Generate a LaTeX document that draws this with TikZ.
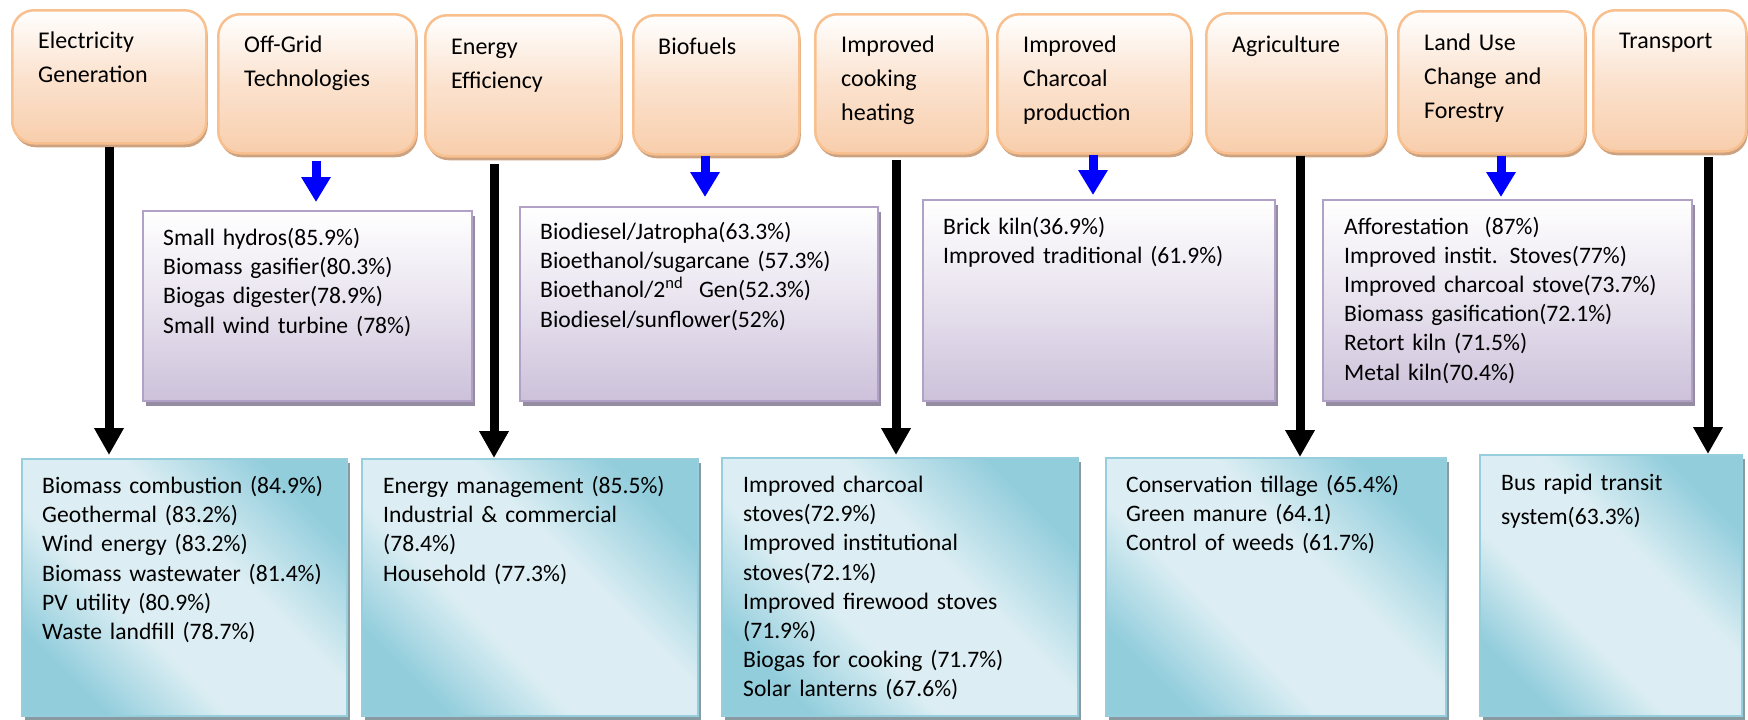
\documentclass[tikz,border=0pt]{standalone}
\usepackage{fontspec}
\setmainfont{Carlito}
\usetikzlibrary{arrows.meta,shadows,calc}
\definecolor{peachB}{RGB}{248,206,172}
\definecolor{peachM}{RGB}{251,226,206}
\definecolor{peachE}{RGB}{249,192,143}
\definecolor{peachS}{RGB}{205,162,128}
\definecolor{lavB}{RGB}{204,193,218}
\definecolor{lavM}{RGB}{232,226,238}
\definecolor{lavE}{RGB}{178,161,199}
\definecolor{lavS}{RGB}{150,140,162}
\definecolor{tealD}{RGB}{146,205,220}
\definecolor{tealL}{RGB}{220,238,243}
\definecolor{tealE}{RGB}{150,206,221}
\definecolor{tealS}{RGB}{135,155,160}
\pgfdeclareverticalshading{tealdiag}{100bp}{color(0bp)=(tealD); color(25bp)=(tealD); color(40bp)=(tealL); color(58bp)=(tealL); color(75bp)=(tealD); color(100bp)=(tealD)}
\tikzset{
  topbox/.style={draw=peachE, line width=2.5pt, rounded corners=22pt,
    top color=white, bottom color=peachB, middle color=peachM,
    drop shadow={shadow xshift=1.5pt, shadow yshift=-4pt, fill=peachS, opacity=1},
    anchor=north west, inner sep=0pt},
  midbox/.style={draw=lavE, line width=2pt, top color=white, bottom color=lavB, middle color=lavM,
    drop shadow={shadow xshift=3pt, shadow yshift=-5pt, fill=lavS, opacity=1},
    anchor=north west, inner sep=0pt},
  lowbox/.style={draw=tealE, line width=2pt, shade, shading=tealdiag, shading angle=-45,
    drop shadow={shadow xshift=3pt, shadow yshift=-4pt, fill=tealS, opacity=1},
    anchor=north west, inner sep=0pt},
  toptxt/.style={anchor=base west, inner sep=0pt, text width=380pt, align=left,
    font=\fontsize{24}{34}\selectfont},
  listtxt/.style={anchor=base west, inner sep=0pt, text width=400pt, align=left,
    font=\fontsize{23.6}{29.2}\selectfont},
  blk/.style={line width=9pt, black, -{Triangle[width=28pt,length=27pt]}},
  blu/.style={line width=9pt, blue, -{Triangle[width=28pt,length=25pt]}},
}
\begin{document}
\begin{tikzpicture}[x=1pt,y=-1pt]
\useasboundingbox (0,0) rectangle (1748,720);
% top category boxes
\node[topbox, minimum width=194pt, minimum height=133pt] (eg) at (11,9) {};
\node[topbox, minimum width=198pt, minimum height=139pt] (og) at (217,13) {};
\node[topbox, minimum width=196pt, minimum height=141pt] (ee) at (424,14) {};
\node[topbox, minimum width=166pt, minimum height=139pt] (bf) at (632,14) {};
\node[topbox, minimum width=172pt, minimum height=139pt] (ck) at (814,13) {};
\node[topbox, minimum width=194pt, minimum height=139pt] (ch) at (996,13) {};
\node[topbox, minimum width=180pt, minimum height=140pt] (ag) at (1205,12) {};
\node[topbox, minimum width=187pt, minimum height=142pt] (lu) at (1397,10) {};
\node[topbox, minimum width=153pt, minimum height=141pt] (tr) at (1592,9) {};
\node[toptxt] (egt) at (38,48.5) {Electricity\\Generation};
\node[toptxt] (ogt) at (244,52.5) {Off-Grid\\Technologies};
\node[toptxt] (eet) at (451,54.5) {Energy\\Efficiency};
\node[toptxt] (bft) at (658,54.5) {Biofuels};
\node[toptxt] (ckt) at (841,52.5) {Improved\\cooking\\heating};
\node[toptxt] (cht) at (1023,52.5) {Improved\\Charcoal\\production};
\node[toptxt] (agt) at (1232,52.5) {Agriculture};
\node[toptxt] (lut) at (1424,50.5) {Land Use\\Change and\\Forestry};
\node[toptxt] (trt) at (1619,48.5) {Transport};
% middle (lavender) boxes
\node[midbox, minimum width=329pt, minimum height=190pt] (ogl) at (142,210) {};
\node[midbox, minimum width=358pt, minimum height=194pt] (bfl) at (519,206) {};
\node[midbox, minimum width=352pt, minimum height=201pt] (chl) at (922,199) {};
\node[midbox, minimum width=369pt, minimum height=201pt] (lul) at (1322,199) {};
\node[listtxt] (oglt) at (163,245.5) {Small hydros(85.9\%)\\Biomass gasifier(80.3\%)\\Biogas digester(78.9\%)\\Small wind turbine (78\%)};
\node[listtxt] (bflt) at (540,239.5) {Biodiesel/Jatropha(63.3\%)\\Bioethanol/sugarcane (57.3\%)\\Bioethanol/2\textsuperscript{nd}~ Gen(52.3\%)\\Biodiesel/sunflower(52\%)};
\node[listtxt] (chlt) at (943,234) {Brick kiln(36.9\%)\\Improved traditional (61.9\%)};
\node[listtxt] (lult) at (1344,234) {Afforestation~ (87\%)\\Improved instit. Stoves(77\%)\\Improved charcoal stove(73.7\%)\\Biomass gasification(72.1\%)\\Retort kiln (71.5\%)\\Metal kiln(70.4\%)};
% bottom (teal) boxes
\node[lowbox, minimum width=325pt, minimum height=257pt] (egb) at (21,458) {};
\node[lowbox, minimum width=336pt, minimum height=257pt] (eeb) at (361,458) {};
\node[lowbox, minimum width=356pt, minimum height=258pt] (ckb) at (721,457) {};
\node[lowbox, minimum width=340pt, minimum height=258pt] (agb) at (1105,457) {};
\node[lowbox, minimum width=262pt, minimum height=261pt] (trb) at (1479,454) {};
\node[listtxt] (egbt) at (42,493.5) {Biomass combustion (84.9\%)\\Geothermal (83.2\%)\\Wind energy (83.2\%)\\Biomass wastewater (81.4\%)\\PV utility (80.9\%)\\Waste landfill (78.7\%)};
\node[listtxt] (eebt) at (383,493.5) {Energy management (85.5\%)\\Industrial \& commercial\\(78.4\%)\\Household (77.3\%)};
\node[listtxt] (ckbt) at (743,492.5) {Improved charcoal\\stoves(72.9\%)\\Improved institutional\\stoves(72.1\%)\\Improved firewood stoves\\(71.9\%)\\Biogas for cooking (71.7\%)\\Solar lanterns (67.6\%)};
\node[listtxt] (agbt) at (1126,492.5) {Conservation tillage (65.4\%)\\Green manure (64.1)\\Control of weeds (61.7\%)};
\node[listtxt, font=\fontsize{23.6}{34}\selectfont] (trbt) at (1501,490.5) {Bus rapid transit\\system(63.3\%)};
% arrow columns
\coordinate (xeg) at (109,0);
\coordinate (xee) at (494,0);
\coordinate (xck) at (896,0);
\coordinate (xag) at (1300,0);
\coordinate (xtr) at (1708,0);
\coordinate (xog) at (316,0);
\coordinate (xbf) at (705,0);
\coordinate (xch) at (1093,0);
\coordinate (xlu) at (1501,0);
% black arrows
\draw[blk, shorten <=2pt, shorten >=3pt] (eg.south -| xeg) -- (egb.north -| xeg);
\draw[blk, shorten <=6pt] (ee.south -| xee) -- (eeb.north -| xee);
\draw[blk, shorten <=5pt, shorten >=2pt] (ck.south -| xck) -- (ckb.north -| xck);
\draw[blk, shorten <=1pt] (ag.south -| xag) -- (agb.north -| xag);
\draw[blk, shorten <=4pt] (tr.south -| xtr) -- (trb.north -| xtr);
% blue arrows
\draw[blu, shorten <=6pt, shorten >=8pt] (og.south -| xog) -- (ogl.north -| xog);
\draw[blu, shorten >=9pt] (bf.south -| xbf) -- (bfl.north -| xbf);
\draw[blu, shorten >=4pt] (ch.south -| xch) -- (chl.north -| xch);
\draw[blu, shorten <=1pt, shorten >=2pt] (lu.south -| xlu) -- (lul.north -| xlu);
\end{tikzpicture}
\end{document}
